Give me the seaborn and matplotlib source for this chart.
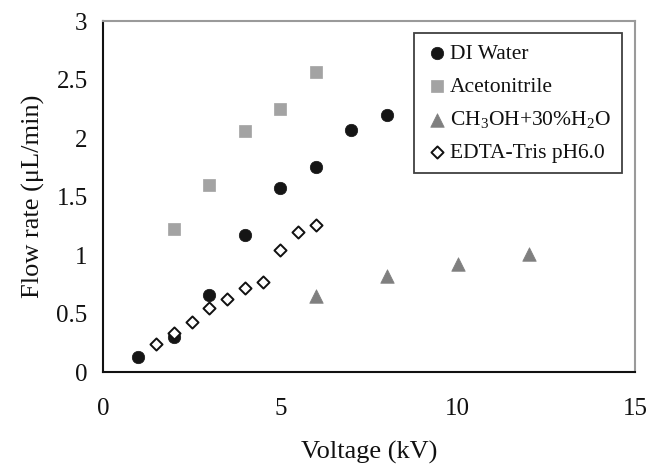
import matplotlib
matplotlib.use("Agg")
import matplotlib.pyplot as plt
import seaborn as sns
import pandas as pd

# ---- data ----
di_x = [1, 2, 3, 4, 5, 6, 7, 8]
di_y = [0.13, 0.30, 0.66, 1.17, 1.57, 1.75, 2.07, 2.20]
acn_x = [2, 3, 4, 5, 6]
acn_y = [1.22, 1.60, 2.06, 2.25, 2.56]
meoh_x = [6, 8, 10, 12]
meoh_y = [0.65, 0.82, 0.92, 1.01]
edta_x = [1.5, 2, 2.5, 3, 3.5, 4, 4.5, 5, 5.5, 6]
edta_y = [0.24, 0.33, 0.43, 0.55, 0.62, 0.72, 0.77, 1.04, 1.20, 1.26]

labels = ["DI Water", "Acetonitrile", r"CH$_3$OH+30%H$_2$O", "EDTA-Tris pH6.0"]
x_ticks = [0, 5, 10, 15]
y_ticks = [0, 0.5, 1, 1.5, 2, 2.5, 3]
y_tick_labels = ["0", "0.5", "1", "1.5", "2", "2.5", "3"]

sns.set_theme(style="white")
plt.rcParams["font.family"] = ["Liberation Serif", "DejaVu Serif"]
plt.rcParams["mathtext.fontset"] = "custom"
plt.rcParams["mathtext.rm"] = "Liberation Serif"
plt.rcParams["mathtext.it"] = "Liberation Serif:italic"

fig = plt.figure(figsize=(6.49, 4.70), dpi=100)
ax = fig.add_axes([0.1587, 0.2085, 0.8197, 0.7468])

series = [
    (di_x, di_y, labels[0], dict(marker="o", s=80, color="#151515", edgecolor="#151515", linewidth=0.5)),
    (acn_x, acn_y, labels[1], dict(marker="s", s=70, color="#a3a3a3", edgecolor="#a3a3a3", linewidth=0.5)),
    (meoh_x, meoh_y, labels[2], dict(marker="^", s=95, color="#7f7f7f", edgecolor="#7f7f7f", linewidth=0.5)),
    (edta_x, edta_y, labels[3], dict(marker="D", s=38, color="white", edgecolor="#111111", linewidth=1.4)),
]
for xs, ys, lab, kw in series:
    df = pd.DataFrame({"Voltage": xs, "Flow": ys})
    sns.scatterplot(data=df, x="Voltage", y="Flow", ax=ax, label=lab, zorder=3, **kw)

ax.set_xlim(0, 15)
ax.set_ylim(0, 3)
ax.set_xticks(x_ticks)
ax.set_yticks(y_ticks)
ax.set_xticklabels([str(t) for t in x_ticks])
ax.set_yticklabels(y_tick_labels)
ax.tick_params(axis="both", direction="in", length=7, width=1.2, colors="#111111",
               labelsize=18, labelcolor="#111111")
ax.tick_params(axis="x", pad=19)
ax.tick_params(axis="y", pad=11)
ax.set_xlabel("Voltage (kV)", fontsize=19, color="#111111", labelpad=15)
ax.set_ylabel("Flow rate (\u03bcL/min)", fontsize=19, color="#111111", labelpad=8)

for side in ["left", "bottom"]:
    ax.spines[side].set_color("#111111")
    ax.spines[side].set_linewidth(1.5)
for side in ["top", "right"]:
    ax.spines[side].set_color("#9a9a9a")
    ax.spines[side].set_linewidth(1.5)
    ax.spines[side].set_visible(True)

leg = ax.legend(loc="upper right", bbox_to_anchor=(0.975, 0.965), frameon=True, fancybox=False,
                edgecolor="#111111", fontsize=15.5, handletextpad=0.05, borderpad=0.5,
                labelspacing=0.58, handlelength=1.1, borderaxespad=0.0)
leg.get_frame().set_linewidth(1.3)
for t in leg.get_texts():
    t.set_color("#111111")

fig.savefig("out.png", dpi=100)
